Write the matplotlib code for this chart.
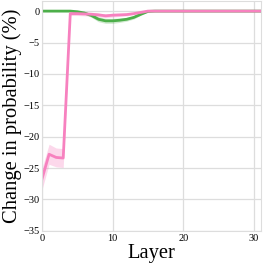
import numpy as np
import matplotlib.pyplot as plt

layers = np.arange(32)
green = [0, 0, 0, 0, 0, -0.1, -0.3, -0.7, -1.3, -1.55, -1.55, -1.45, -1.3, -1.0, -0.5, -0.05] + [0] * 16
green_sd = [0.05] * 5 + [0.1, 0.2, 0.3, 0.4, 0.4, 0.4, 0.35, 0.3, 0.25, 0.15, 0.05] + [0.02] * 16
pink = [-26.7, -22.8, -23.3, -23.4, -0.4, -0.4, -0.45, -0.5, -0.6, -0.75, -0.65, -0.6, -0.55, -0.4, -0.2, 0] + [0] * 16
pink_sd = [1.7, 1.6, 1.5, 1.5, 0.3, 0.3, 0.3, 0.3, 0.3, 0.3, 0.3, 0.25, 0.2, 0.15, 0.1, 0.05] + [0.02] * 16

plt.rcParams['font.family'] = ['Liberation Serif', 'DejaVu Serif']
fig = plt.figure(figsize=(2.66, 2.66), dpi=100)
ax = fig.add_axes([0.158, 0.132, 0.823, 0.864])

g, gs = np.array(green), np.array(green_sd)
p, ps = np.array(pink), np.array(pink_sd)
ax.fill_between(layers, g - gs, g + gs, color='#4daf4a', alpha=0.25, lw=0)
ax.plot(layers, g, color='#4daf4a', lw=2)
ax.fill_between(layers, p - ps, p + ps, color='#f781bf', alpha=0.3, lw=0)
ax.plot(layers, p, color='#f781bf', lw=2)

ax.set_xlim(0, 31)
ax.set_ylim(-35, 1.6)
ax.set_xticks([0, 10, 20, 30])
ax.set_yticks([0, -5, -10, -15, -20, -25, -30, -35])
ax.grid(color='#dddddd', lw=0.9)
ax.set_axisbelow(True)
for s in ax.spines.values():
    s.set_color('#dddddd')
ax.tick_params(length=0, labelsize=7.5, pad=2)
ax.set_xlabel('Layer', fontsize=14.8, labelpad=1)
ax.set_ylabel('Change in probability (%)', fontsize=14.8, labelpad=1)

fig.savefig('out.png', dpi=100)
